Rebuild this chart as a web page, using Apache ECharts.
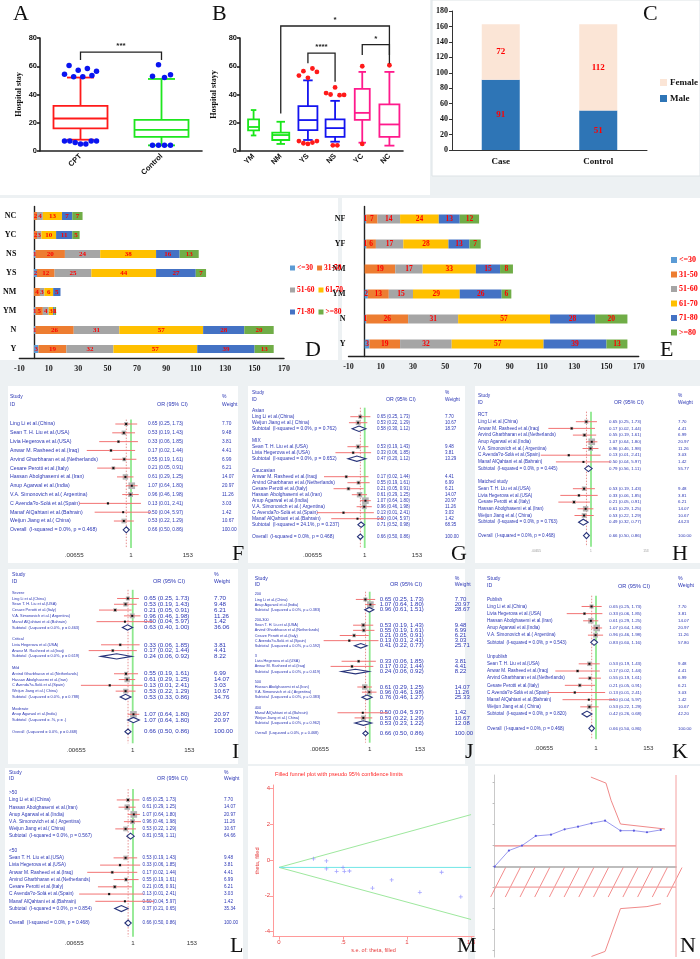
<!DOCTYPE html>
<html><head><meta charset="utf-8">
<script src="https://cdn.jsdelivr.net/npm/echarts@6/dist/echarts.min.js"></script>
<style>html,body{margin:0;padding:0;background:#fff}#c{width:700px;height:959px}</style>
</head><body><div id="c"></div>
<script>
// ================= DATA =================
// Panel A
const catA = ['CPT', 'Control'];
const boxA = [[8, 16, 23, 32, 52], [4, 10, 15, 22, 51]];           // min,q1,median,q3,max
const outA = [[54.3, 60.5, 52.5, 57.2, 52.5, 58.4, 53.4, 56.5, 7, 7, 6, 5, 5, 7, 7], [53, 61, 52, 54, 4, 4, 4, 4]];
const sigA = [[0, 1, 70, 64.5, 64.5]]; const sigAText = ['***'];
// Panel B
const catB = ['YM', 'NM', 'YS', 'NS', 'YC', 'NC'];
const boxB = [[11, 14.6, 17, 22.4, 29], [5, 7.8, 11.3, 13, 20.7], [7.8, 14.8, 21.9, 31.8, 50], [6.6, 10, 16.2, 22.4, 35.5], [5.9, 22, 27, 44, 56], [3.8, 10, 18.8, 33, 56]];
const outB = [[], [], [53.4, 56.5, 51.8, 58.4, 56, 7, 5.5, 5, 6, 7], [41, 40, 45, 39.5, 39.7, 4, 4], [60, 5], [60.7]];
const sigB = [[1, 5, 88.5, 26.6, 62], [2, 3, 69.3, 62.2, 49], [4, 5, 75.3, 68, 68]]; const sigBText = ['*', '****', '*'];
// Panel C
const catC = ['Case', 'Control'];
const maleC = [91, 51];
const femaleC = [72, 112];
// Panel D
const ageGroups = ['<=30', '31-50', '51-60', '61-70', '71-80', '>=80'];
const catD = ['Y', 'N', 'YM', 'NM', 'YS', 'NS', 'YC', 'NC'];
const dLe30 = [3, 1, 1, 0, 2, 1, 0, 0];
const d31_50 = [19, 26, 5, 4, 12, 20, 2, 2];
const d51_60 = [32, 31, 4, 3, 25, 24, 3, 4];
const d61_70 = [57, 57, 3, 6, 44, 38, 10, 13];
const d71_80 = [39, 28, 1, 5, 27, 16, 11, 7];
const dGe80 = [13, 20, 1, 0, 7, 13, 5, 7];
// Panel E
const catE = ['Y', 'N', 'YM', 'NM', 'YF', 'NF'];
const eLe30 = [3, 1, 2, 0, 1, 1];
const e31_50 = [19, 26, 13, 19, 6, 7];
const e51_60 = [32, 31, 15, 17, 17, 14];
const e61_70 = [57, 57, 29, 33, 28, 24];
const e71_80 = [39, 28, 26, 15, 13, 13];
const eGe80 = [13, 20, 6, 8, 7, 12];
// Forest plots
const studyNames = ['Ling Li et al.(China)', 'Sean T. H. Liu et al.(USA)', 'Livia Hegerova et al.(USA)', 'Anwar M. Rasheed et al.(Iraq)', 'Arvind Gharbharan et al.(Netherlands)', 'Cesare Perotti et al.(Italy)', 'Hassan Abolghasemi et al.(Iran)', 'Anup Agarwal et al.(India)', 'V.A. Simonovich et al.( Argentina)', 'C Avenda?o-Solá et al.(Spain)', 'Manaf AlQahtani et al.(Bahrain)', 'Weijun Jiang et al.( China)'];
const studyOR = [0.65, 0.53, 0.33, 0.17, 0.55, 0.21, 0.61, 1.07, 0.96, 0.13, 0.50, 0.53];
const studyLo = [0.25, 0.19, 0.06, 0.02, 0.19, 0.05, 0.29, 0.64, 0.46, 0.01, 0.04, 0.22];
const studyHi = [1.73, 1.43, 1.85, 1.44, 1.61, 0.91, 1.25, 1.80, 1.98, 2.41, 5.97, 1.29];
const studyWt = [7.70, 9.48, 3.81, 4.41, 6.99, 6.21, 14.07, 20.97, 11.26, 3.03, 1.42, 10.67];
const overallEst = [0.66, 0.50, 0.86, 100.00];
const overallHet = '0.0%, p = 0.468';
const forestTicks = [0.00655, 1, 153];
const forestTickLabels = ['.00655', '1', '153'];
// G: ethnicity
const gNames = ['Asian', 'MIX', 'Caucasian'];
const gMembers = [[0, 11], [1, 2], [3, 4, 5, 6, 7, 8, 9, 10]];
const gSub = [[0.58, 0.30, 1.12, 18.37], [0.47, 0.20, 1.12, 13.29], [0.71, 0.52, 0.98, 68.35]];
const gHet = ['0.0%, p = 0.762', '0.0%, p = 0.652', '24.1%, p = 0.237'];
// H: design
const hNames = ['RCT', 'Matched study'];
const hMembers = [[0, 3, 4, 7, 8, 9, 10], [1, 2, 5, 6, 11]];
const hSub = [[0.79, 0.56, 1.11, 55.77], [0.49, 0.32, 0.77, 44.23]];
const hHet = ['0.0%, p = 0.445', '0.0%, p = 0.763'];
// I: severity
const iNames = ['Severe', 'Critical', 'Mild', 'Moderate'];
const iMembers = [[0, 1, 5, 8, 10], [2, 3], [4, 6, 9, 11], [7]];
const iSub = [[0.63, 0.40, 1.00, 36.06], [0.24, 0.06, 0.92, 8.22], [0.53, 0.33, 0.86, 34.76], [1.07, 0.64, 1.80, 20.97]];
const iHet = ['0.0%, p = 0.463', '0.0%, p = 0.619', '0.0%, p = 0.788', '.%, p = .'];
// J: dose
const jNames = ['200', '200-300', '3', '500', '400'];
const jMembers = [[0, 7], [1, 4, 5, 9], [2, 3], [6, 8], [10, 11]];
const jSub = [[0.96, 0.61, 1.51, 28.67], [0.41, 0.22, 0.77, 25.71], [0.24, 0.06, 0.92, 8.22], [0.76, 0.46, 1.27, 25.33], [0.53, 0.23, 1.22, 12.08]];
const jHet = ['0.0%, p = 0.383', '0.0%, p = 0.592', '0.0%, p = 0.619', '0.0%, p = 0.383', '0.0%, p = 0.962'];
// K: publication
const kNames = ['Publish', 'Unpublish'];
const kMembers = [[0, 2, 6, 7, 8], [1, 3, 4, 5, 9, 10, 11]];
const kSub = [[0.83, 0.60, 1.16, 57.80], [0.42, 0.26, 0.68, 42.20]];
const kHet = ['0.0%, p = 0.543', '0.0%, p = 0.820'];
// L: age
const lNames = ['>50', '<50'];
const lMembers = [[0, 6, 7, 8, 11], [1, 2, 3, 4, 5, 9, 10]];
const lSub = [[0.81, 0.59, 1.11, 64.66], [0.37, 0.21, 0.65, 35.34]];
const lHet = ['0.0%, p = 0.567', '0.0%, p = 0.854'];
// M: funnel
const funnelSE = [0.27, 0.37, 0.37, 0.45, 0.50, 0.51, 0.55, 0.73, 0.88, 1.10, 1.27, 1.42];
const funnelTheta = [0.06, -0.06, -0.50, -0.64, -0.43, -0.64, -0.62, -1.57, -1.12, -1.81, -0.69, -2.06];
const funnelPooled = [[0, -0.42], [1.5, -0.42]];
const funnelUpper = [[0, -0.42], [1.5, 2.52]];
const funnelLower = [[0, -0.42], [1.5, -3.32]];
const funnelXTicks = [0, 0.5, 1, 1.5]; const funnelXLabels = ['0', '.5', '1', '1.5'];
const funnelYTicks = [-4, -2, 0, 2, 4];
// N: trial sequential plot
const tsaX = [0, 0.079, 0.151, 0.227, 0.311, 0.386, 0.46, 0.534, 0.609, 0.694, 0.768, 0.84, 0.916];
const tsaZ = [0, 1.52, 1.99, 2.91, 3.03, 3.54, 3.79, 4.11, 4.36, 3.41, 3.41, 3.26, 3.48];
const tsaUpper = [[0.531, 8.5], [0.614, 7.93], [0.642, 6.3], [0.694, 4.04], [0.84, 3.76], [0.939, 3.57]];
const tsaLower = [[0.534, -8.55], [0.609, -8.07], [0.694, -4.0], [0.84, -3.81], [0.917, -3.53]];
const tsaConv = 1.96;
const tsaRIS = 1;

// ================= BUILD =================
const SERIF = '"Liberation Serif","Times New Roman",serif';
const SANS = '"Liberation Sans",Arial,Helvetica,sans-serif';
const TXT = '#2b36b4';
const grids = [], xAxes = [], yAxes = [], series = [], legends = [], graphics = [];
const addGrid = g => grids.push(g) - 1;
const addX = a => xAxes.push(a) - 1;
const addY = a => yAxes.push(a) - 1;
const gtext = (text, x, y, o) => graphics.push(Object.assign({type: 'text', x, y, z: 100, style: Object.assign({text, fill: '#111', fontSize: 10, fontFamily: SANS, textAlign: 'left', textVerticalAlign: 'middle'}, o || {})}));
const grect = (x, y, w, h, fill, stroke) => graphics.push({type: 'rect', z: -100, shape: {x, y, width: w, height: h}, style: {fill, stroke: stroke || null, lineWidth: 1}});

// backgrounds
grect(0, 0, 430, 195, '#fff');
grect(432, 0, 268, 176, '#fff', '#dde3e6');
grect(0, 198, 338, 162, '#fff');
grect(342, 198, 358, 162, '#fff');
grect(8, 386, 230, 177, '#fff'); grect(248, 386, 217, 177, '#fff'); grect(475, 386, 225, 177, '#fff');
grect(8, 569, 230, 195, '#fff'); grect(248, 569, 217, 195, '#fff'); grect(475, 569, 225, 195, '#fff');
grect(5, 768, 238, 191, '#fff'); grect(248, 766, 220, 193, '#fff'); grect(475, 766, 225, 193, '#fff');

// ---------- box plot panels ----------
function beeswarm(vals, spacingMax, spread) {
  const offs = new Array(vals.length).fill(0);
  const clusters = [];
  vals.forEach((v, i) => {
    let c = clusters.find(cl => cl.some(j => Math.abs(vals[j] - v) < 12));
    if (c) c.push(i); else clusters.push([i]);
  });
  clusters.forEach(cl => {
    const n = cl.length; const sp = Math.min(spacingMax, spread / Math.max(1, n - 1));
    cl.forEach((j, k) => offs[j] = (k - (n - 1) / 2) * sp);
  });
  return offs;
}
function boxPanel(cfg, cats, boxes, outs, cols, widths, outColor, sig, sigText) {
  const gi = addGrid({left: cfg.l, top: cfg.t, width: cfg.w, height: cfg.h});
  const axStyle = {color: '#222', width: 1.6};
  const xi = addX({gridIndex: gi, type: 'category', data: cats,
    axisLine: {lineStyle: axStyle}, axisTick: {alignWithLabel: true, length: 3, lineStyle: axStyle},
    axisLabel: {rotate: 45, interval: 0, fontSize: 7.5, fontWeight: 'bold', fontFamily: SANS, color: '#111', margin: 4}});
  const yi = addY({gridIndex: gi, type: 'value', min: 0, max: 80, interval: 20,
    axisLine: {show: true, lineStyle: axStyle}, axisTick: {show: true, length: 3, lineStyle: axStyle},
    splitLine: {show: false}, axisLabel: {fontSize: 7.5, fontWeight: 'bold', fontFamily: SANS, color: '#111', margin: 3},
    name: cfg.yname, nameLocation: 'middle', nameGap: cfg.nameGap,
    nameTextStyle: {fontFamily: SERIF, fontWeight: 'bold', fontSize: 8, color: '#111'}});
  series.push({type: 'custom', xAxisIndex: xi, yAxisIndex: yi, z: 3,
    data: boxes.map((b, i) => [i, ...b]),
    renderItem: (p, api) => {
      const i = p.dataIndex, c = cols[i], bw = widths[i], cw = bw * 0.5;
      const x = api.coord([i, 0])[0];
      const y = k => api.coord([i, api.value(k)])[1];
      const st = {stroke: c, lineWidth: 1.8, fill: null};
      const ln = (x1, y1, x2, y2) => ({type: 'line', shape: {x1, y1, x2, y2}, style: st});
      return {type: 'group', children: [
        ln(x, y(5), x, y(4)), ln(x, y(2), x, y(1)),
        ln(x - cw / 2, y(5), x + cw / 2, y(5)), ln(x - cw / 2, y(1), x + cw / 2, y(1)),
        {type: 'rect', shape: {x: x - bw / 2, y: y(4), width: bw, height: y(2) - y(4)}, style: {stroke: c, lineWidth: 1.8, fill: 'rgba(255,255,255,0)'}},
        ln(x - bw / 2, y(3), x + bw / 2, y(3))
      ]};
    }});
  const od = [];
  outs.forEach((arr, i) => { const offs = beeswarm(arr, cfg.sp, cfg.spread); arr.forEach((v, k) => od.push({value: [i, v], symbolOffset: [offs[k], 0]})); });
  series.push({type: 'scatter', xAxisIndex: xi, yAxisIndex: yi, z: 4, symbolSize: cfg.dot, itemStyle: {color: outColor, opacity: 1}, data: od});
  series.push({type: 'custom', xAxisIndex: xi, yAxisIndex: yi, z: 5, clip: false,
    data: sig,
    renderItem: (p, api) => {
      const a = api.coord([api.value(0), api.value(3)]), b = api.coord([api.value(1), api.value(4)]);
      const ta = api.coord([api.value(0), api.value(2)]), tb = api.coord([api.value(1), api.value(2)]);
      return {type: 'group', children: [
        {type: 'polyline', shape: {points: [a, ta, tb, b]}, style: {stroke: '#222', lineWidth: 1.3, fill: null}},
        {type: 'text', style: {text: sigText[p.dataIndex], x: (ta[0] + tb[0]) / 2, y: ta[1] - 2, fill: '#222', fontSize: 8, fontWeight: 'bold', fontFamily: SANS, textAlign: 'center', textVerticalAlign: 'bottom'}}
      ]};
    }});
}
boxPanel({l: 40, t: 38, w: 162, h: 113, yname: 'Hospital stay', nameGap: 17, sp: 6, spread: 32, dot: 5.5}, catA, boxA, outA, ['#ff1a1a', '#1ee61e'], [54, 54], '#0a14f0', sigA, sigAText);
boxPanel({l: 240, t: 38, w: 163, h: 113, yname: 'Hospital stayy', nameGap: 22, sp: 4.5, spread: 22, dot: 4.8}, catB, boxB, outB, ['#19e619', '#19e619', '#1414f0', '#1414f0', '#ff1a8c', '#ff1a8c'], [11, 17, 19, 19, 15, 20], '#ff1a1a', sigB, sigBText);

// ---------- C ----------
{
  const gi = addGrid({left: 452, top: 11, width: 195, height: 139});
  const xi = addX({gridIndex: gi, type: 'category', data: catC, axisLine: {lineStyle: {color: '#333', width: 1}},
    axisTick: {length: 4, lineStyle: {color: '#333'}}, axisLabel: {fontFamily: SERIF, fontWeight: 'bold', fontSize: 9, color: '#111', margin: 7}});
  const yi = addY({gridIndex: gi, type: 'value', min: 0, max: 180, interval: 20, axisLine: {show: true, lineStyle: {color: '#333'}},
    axisTick: {show: true, length: 3, lineStyle: {color: '#333'}}, splitLine: {show: false},
    axisLabel: {fontFamily: SERIF, fontWeight: 'bold', fontSize: 8, color: '#111', margin: 4}});
  const lab = {show: true, position: 'inside', color: '#ff0000', fontFamily: SERIF, fontWeight: 'bold', fontSize: 9};
  series.push({name: 'Male', type: 'bar', stack: 'c', xAxisIndex: xi, yAxisIndex: yi, barWidth: 38, data: maleC, itemStyle: {color: '#2e75b6'}, label: lab});
  series.push({name: 'Female', type: 'bar', stack: 'c', xAxisIndex: xi, yAxisIndex: yi, barWidth: 38, data: femaleC, itemStyle: {color: '#fbe5d6'}, label: lab});
  legends.push({data: ['Female', 'Male'], orient: 'vertical', left: 655, top: 73, itemWidth: 7, itemHeight: 7, itemGap: 7, icon: 'rect',
    textStyle: {fontFamily: SERIF, fontWeight: 'bold', fontSize: 9, color: '#111', padding: [0, 0, 0, -2]}});
}

// ---------- D & E ----------
const ageColors = ['#5b9bd5', '#ed7d31', '#a5a5a5', '#ffc000', '#4472c4', '#70ad47'];
function hbarPanel(cfg, cats, sets) {
  const gi = addGrid({left: cfg.l, top: cfg.t, width: cfg.w, height: cfg.h});
  const xi = addX({gridIndex: gi, type: 'value', min: -10, max: 170, interval: 20, splitLine: {show: false},
    axisLine: {show: true, lineStyle: {color: '#222', width: 1.4}}, axisTick: {show: false},
    axisLabel: {fontFamily: SERIF, fontWeight: 'bold', fontSize: 8, color: '#222', margin: 6}});
  const yi = addY({gridIndex: gi, type: 'category', data: cats, axisLine: {onZero: true, lineStyle: {color: '#222', width: 1.4}},
    axisTick: {show: false}, axisLabel: {fontFamily: SERIF, fontWeight: 'bold', fontSize: 8, color: '#111', margin: 3, interval: 0}});
  sets.forEach((d, k) => series.push({name: ageGroups[k], type: 'bar', stack: cfg.stack, xAxisIndex: xi, yAxisIndex: yi, barWidth: cfg.bw, data: d,
    itemStyle: {color: ageColors[k]},
    label: {show: true, position: 'inside', color: '#ff0000', fontFamily: SERIF, fontWeight: 'bold', fontSize: cfg.fs, formatter: p => p.value ? String(p.value) : ''}}));
}
hbarPanel({l: 8, t: 206.5, w: 276, h: 152, stack: 'd', bw: 8, fs: 7}, catD, [dLe30, d31_50, d51_60, d61_70, d71_80, dGe80]);
hbarPanel({l: 348.5, t: 206.5, w: 290.2, h: 150, stack: 'e', bw: 9, fs: 7.5}, catE, [eLe30, e31_50, e51_60, e61_70, e71_80, eGe80]);
const legTxt = {fontFamily: SERIF, fontWeight: 'bold', fontSize: 7.5, color: '#ff0000', padding: [0, 0, 0, -3]};
[[0, 1], [2, 3], [4, 5]].forEach((pr, r) => legends.push({data: pr.map(k => ageGroups[k]), orient: 'horizontal', left: 285, top: 259 + r * 22, itemWidth: 5, itemHeight: 5, itemGap: 4, icon: 'rect', textStyle: legTxt}));
legends.push({data: ageGroups, orient: 'vertical', left: 666, top: 251, itemWidth: 6, itemHeight: 6, itemGap: 6.5, icon: 'rect', textStyle: Object.assign({}, legTxt, {fontSize: 8})});

// ---------- forest plots ----------
const fmt = v => v.toFixed(2);
function studyRow(s) { return {t: 'study', name: studyNames[s], or: studyOR[s], lo: studyLo[s], hi: studyHi[s], w: studyWt[s]}; }
function overallRow() { return {t: 'sub', name: 'Overall  (I-squared = ' + overallHet + ')', or: overallEst[0], lo: overallEst[1], hi: overallEst[2], w: overallEst[3]}; }
function groupRows(names, members, subs, hets) {
  const rows = [];
  names.forEach((nm, g) => {
    rows.push({t: 'head', name: nm});
    members[g].forEach(s => rows.push(studyRow(s)));
    rows.push({t: 'sub', name: 'Subtotal  (I-squared = ' + hets[g] + ')', or: subs[g][0], lo: subs[g][1], hi: subs[g][2], w: subs[g][3]});
    rows.push({t: 'blank'});
  });
  rows.push(overallRow());
  return rows;
}
function rowLabel(r) {
  if (r.t === 'blank') return '';
  if (r.t === 'head') return '{n|' + r.name + '}';
  return '{n|' + r.name + '}{o|' + fmt(r.or) + ' (' + fmt(r.lo) + ', ' + fmt(r.hi) + ')}{w|' + fmt(r.w) + '}';
}
function forest(cfg, rows) {
  const n = rows.length, top = cfg.y0 - cfg.dy / 2, h = n * cfg.dy;
  const gi = addGrid({left: cfg.x0, top, width: cfg.x1 - cfg.x0, height: h});
  const mn = Math.exp((cfg.x0 - cfg.p1) / cfg.k), mx = Math.exp((cfg.x1 - cfg.p1) / cfg.k);
  const xi = addX({gridIndex: gi, type: 'log', logBase: Math.E, min: mn, max: mx, offset: cfg.ax - (top + h),
    axisLine: {lineStyle: {color: '#666', width: 0.8}},
    axisTick: {customValues: forestTicks, length: 2.5, lineStyle: {color: '#666', width: 0.8}},
    axisLabel: {customValues: forestTicks, fontSize: cfg.tfs, color: cfg.tcol || '#333', fontFamily: SANS, margin: cfg.tm,
      formatter: v => { const k = forestTicks.findIndex(t => Math.abs(Math.log(t / v)) < 0.02); return k >= 0 ? forestTickLabels[k] : ''; }},
    splitLine: {show: false}, minorTick: {show: false}, minorSplitLine: {show: false}});
  const yi = addY({gridIndex: gi, type: 'category', inverse: true, data: rows.map((r, i) => String(i)),
    axisLine: {show: false}, axisTick: {show: false}, splitLine: {show: false},
    axisLabel: {inside: true, interval: 0, margin: cfg.nx - cfg.x0, align: 'left', fontFamily: SANS, color: TXT, hideOverlap: false,
      formatter: (v, i) => rowLabel(rows[i]),
      rich: {n: {width: cfg.ox - cfg.nx, fontSize: cfg.fn, color: TXT, fontFamily: SANS},
        o: {width: cfg.wx - cfg.ox, fontSize: cfg.fo, color: TXT, fontFamily: SANS},
        w: {fontSize: cfg.fo, color: TXT, fontFamily: SANS}}}});
  series.push({type: 'custom', xAxisIndex: xi, yAxisIndex: yi, z: 1, clip: false, data: [[1, 0, overallEst[0]]],
    renderItem: (p, api) => {
      const cs = p.coordSys; const x1 = api.coord([api.value(0), 0])[0], x2 = api.coord([api.value(2), 0])[0];
      return {type: 'group', children: [
        {type: 'line', shape: {x1, y1: cs.y, x2: x1, y2: cfg.ax}, style: {stroke: '#8ee88e', lineWidth: 1.8}},
        {type: 'line', shape: {x1: x2, y1: cs.y, x2, y2: cfg.ax}, style: {stroke: '#e07575', lineWidth: 0.8, lineDash: [1.5, 1.5]}}
      ]};
    }});
  const md = []; rows.forEach((r, i) => { if (r.t === 'study' || r.t === 'sub') md.push([r.or, i, r.lo, r.hi, r.w, r.t === 'study' ? 0 : 1]); });
  series.push({type: 'custom', xAxisIndex: xi, yAxisIndex: yi, z: 3, clip: false, data: md,
    renderItem: (p, api) => {
      const idx = api.value(1);
      const po = api.coord([api.value(0), idx]), xl = api.coord([api.value(2), idx])[0], xh = api.coord([api.value(3), idx])[0];
      const y = po[1];
      if (api.value(5) === 0) {
        const s = 1.45 * Math.sqrt(api.value(4));
        return {type: 'group', children: [
          {type: 'rect', shape: {x: po[0] - s / 2, y: y - s / 2, width: s, height: s}, style: {fill: '#b4b4b4'}},
          {type: 'line', shape: {x1: xl, y1: y, x2: xh, y2: y}, style: {stroke: '#f27474', lineWidth: 1}},
          {type: 'rect', shape: {x: po[0] - 1, y: y - 1, width: 2, height: 2}, style: {fill: '#111'}}
        ]};
      }
      const hh = Math.min(3, cfg.dy * 0.45);
      return {type: 'polygon', shape: {points: [[xl, y], [po[0], y - hh], [xh, y], [po[0], y + hh]]}, style: {fill: '#fff', stroke: '#27337a', lineWidth: 1.1}};
    }});
  const hs = {fill: TXT, fontSize: cfg.fh};
  gtext('Study', cfg.nx, cfg.hy1, hs); gtext('ID', cfg.nx, cfg.hy2, hs);
  gtext('OR (95% CI)', cfg.ohx, cfg.hy2, Object.assign({}, hs, {fontSize: cfg.fh + 0.4}));
  gtext('%', cfg.wx, cfg.hy1, hs); gtext('Weight', cfg.wx, cfg.hy2, hs);
}
const fRows = studyNames.map((s, i) => studyRow(i)); fRows.push(overallRow());
forest({x0: 8, x1: 238, p1: 131, k: 11.3, y0: 424, dy: 8.82, ax: 548, nx: 10, ox: 148, wx: 222, hy1: 397, hy2: 405, ohx: 157, fn: 5.2, fo: 4.8, fh: 5, tfs: 6.2, tm: 4}, fRows);
forest({x0: 248, x1: 465, p1: 364.7, k: 10.4, y0: 410.7, dy: 6.0, ax: 548, nx: 252, ox: 377, wx: 445, hy1: 393, hy2: 400, ohx: 386, fn: 4.9, fo: 4.5, fh: 4.8, tfs: 6.2, tm: 4}, groupRows(gNames, gMembers, gSub, gHet));
forest({x0: 475, x1: 700, p1: 591, k: 10.9, y0: 415, dy: 6.7, ax: 546.7, nx: 478, ox: 609, wx: 678, hy1: 396, hy2: 403, ohx: 614, fn: 4.6, fo: 4.4, fh: 4.8, tfs: 3.2, tcol: '#999', tm: 3}, groupRows(hNames, hMembers, hSub, hHet));
forest({x0: 8, x1: 238, p1: 132.7, k: 11.25, y0: 592.7, dy: 5.79, ax: 743.3, nx: 12, ox: 144, wx: 214, hy1: 575, hy2: 581.7, ohx: 153, fn: 3.9, fo: 6.2, fh: 5.2, tfs: 6.2, tm: 4}, groupRows(iNames, iMembers, iSub, iHet));
forest({x0: 248, x1: 465, p1: 369.7, k: 10.0, y0: 594.3, dy: 5.15, ax: 742.7, nx: 254.7, ox: 379.7, wx: 454.7, hy1: 579, hy2: 584.5, ohx: 390, fn: 3.8, fo: 6.0, fh: 5.2, tfs: 6.2, tm: 4}, groupRows(jNames, jMembers, jSub, jHet));
forest({x0: 475, x1: 700, p1: 596, k: 10.4, y0: 599.3, dy: 7.17, ax: 739.3, nx: 487, ox: 609.3, wx: 678, hy1: 579, hy2: 586, ohx: 618, fn: 4.6, fo: 4.4, fh: 5.2, tfs: 6.2, tm: 6}, groupRows(kNames, kMembers, kSub, kHet));
forest({x0: 5, x1: 243, p1: 133, k: 11.7, y0: 792.7, dy: 7.24, ax: 936.7, nx: 9, ox: 142.6, wx: 224, hy1: 772.3, hy2: 779, ohx: 157, fn: 4.8, fo: 4.6, fh: 5, tfs: 6.2, tm: 4}, groupRows(lNames, lMembers, lSub, lHet));

// ---------- M funnel ----------
{
  const gi = addGrid({left: 273, top: 785, width: 201, height: 151.7});
  const ax = {lineStyle: {color: '#ff9a9a', width: 1}};
  const xi = addX({gridIndex: gi, type: 'value', min: -0.047, max: 1.523, splitLine: {show: false}, axisLine: Object.assign({onZero: false}, ax),
    axisTick: {customValues: funnelXTicks, length: 3, lineStyle: {color: '#ff9a9a'}},
    axisLabel: {customValues: funnelXTicks, formatter: v => funnelXLabels[funnelXTicks.indexOf(v)] ?? '', fontSize: 6, color: '#e63c3c', fontFamily: SANS, margin: 3},
    name: 's.e. of: theta, filled', nameLocation: 'middle', nameGap: 11, nameTextStyle: {fontSize: 5.5, color: '#e63c3c', fontFamily: SANS}});
  const yi = addY({gridIndex: gi, type: 'value', min: -4.28, max: 4.17, splitLine: {show: false}, axisLine: Object.assign({show: true, onZero: false}, ax),
    axisTick: {show: true, customValues: funnelYTicks, length: 3, lineStyle: {color: '#ff9a9a'}},
    axisLabel: {customValues: funnelYTicks, fontSize: 6, color: '#e63c3c', fontFamily: SANS, margin: 3},
    name: 'theta, filled', nameLocation: 'middle', nameGap: 12, nameTextStyle: {fontSize: 5.5, color: '#e63c3c', fontFamily: SANS}});
  const L = (d, c) => ({type: 'line', xAxisIndex: xi, yAxisIndex: yi, data: d, symbol: 'none', lineStyle: {color: c, width: 1}, z: 2});
  series.push(L(funnelUpper, '#9ee89e'), L(funnelLower, '#9ee89e'), L(funnelPooled, '#6fe6e6'));
  series.push({type: 'scatter', xAxisIndex: xi, yAxisIndex: yi, z: 3, data: funnelSE.map((s, i) => [s, funnelTheta[i]]),
    symbol: 'path://M4,0H6V4H10V6H6V10H4V6H0V4H4Z', symbolSize: 4, itemStyle: {color: '#8c8cff'}});
  gtext('Filled funnel plot with pseudo 95% confidence limits', 275, 774, {fill: '#ff2a2a', fontSize: 5.6});
}

// ---------- N trial sequential ----------
{
  const gi = addGrid({left: 494.6, top: 775, width: 181.4, height: 182});
  const xi = addX({gridIndex: gi, type: 'value', min: 0, max: 1, splitLine: {show: false},
    axisLine: {onZero: true, lineStyle: {color: '#a8a8a8', width: 1.6}}, axisTick: {show: false}, axisLabel: {show: false}});
  const yi = addY({gridIndex: gi, type: 'value', min: -8.6, max: 8.7, splitLine: {show: false},
    axisLine: {show: true, onZero: false, lineStyle: {color: '#bbb', width: 0.8}},
    axisTick: {show: true, customValues: [-8, -6, -4, -2, 0, 2, 4, 6, 8], length: 2, lineStyle: {color: '#bbb'}}, axisLabel: {show: false}});
  series.push({type: 'custom', xAxisIndex: xi, yAxisIndex: yi, z: 1, data: [[0, -0.1, 1, -2.9]],
    renderItem: (p, api) => {
      const a = api.coord([api.value(0), api.value(1)]), b = api.coord([api.value(2), api.value(3)]);
      const ch = []; const step = 14.7;
      for (let x = a[0] - 4; x < b[0]; x += step) ch.push({type: 'line', shape: {x1: x, y1: b[1], x2: x + 15, y2: a[1]}, style: {stroke: '#f07070', lineWidth: 0.8}});
      return {type: 'group', children: ch};
    }});
  const L = (d, c, w) => ({type: 'line', xAxisIndex: xi, yAxisIndex: yi, data: d, symbol: 'none', lineStyle: {color: c, width: w || 1}, z: 2});
  series.push(L([[0, tsaConv], [tsaRIS, tsaConv]], '#e86a6a'), L([[0, -tsaConv], [tsaRIS, -tsaConv]], '#f0a0a0', 1.4));
  series.push(L([[tsaRIS, -8.6], [tsaRIS, 8.7]], '#f4a0a0'));
  series.push(L(tsaUpper, '#f08a8a'), L(tsaLower, '#f08a8a'));
  series.push({type: 'line', xAxisIndex: xi, yAxisIndex: yi, z: 3, data: tsaX.map((x, i) => [x, tsaZ[i]]),
    symbol: 'circle', symbolSize: 2.2, itemStyle: {color: '#5a5ae0'}, lineStyle: {color: '#9a9aee', width: 1}});
}

// panel letters
const LET = {fontFamily: SERIF, fontSize: 22, fill: '#111', textVerticalAlign: 'top'};
[['A', 13, 3], ['B', 212, 3], ['C', 643, 3], ['D', 305, 339], ['E', 660, 339], ['F', 232, 543], ['G', 451, 543], ['H', 672, 543],
 ['I', 232, 741], ['J', 465, 741], ['K', 672, 741], ['L', 230, 935], ['M', 457, 935], ['N', 680, 935]].forEach(([t, x, y]) => gtext(t, x, y, LET));

const chart = echarts.init(document.getElementById('c'), null, {renderer: 'canvas', width: 700, height: 959});
chart.setOption({backgroundColor: '#edf1f3', animation: false, grid: grids, xAxis: xAxes, yAxis: yAxes, series, legend: legends, graphic: {elements: graphics}});
</script></body></html>
